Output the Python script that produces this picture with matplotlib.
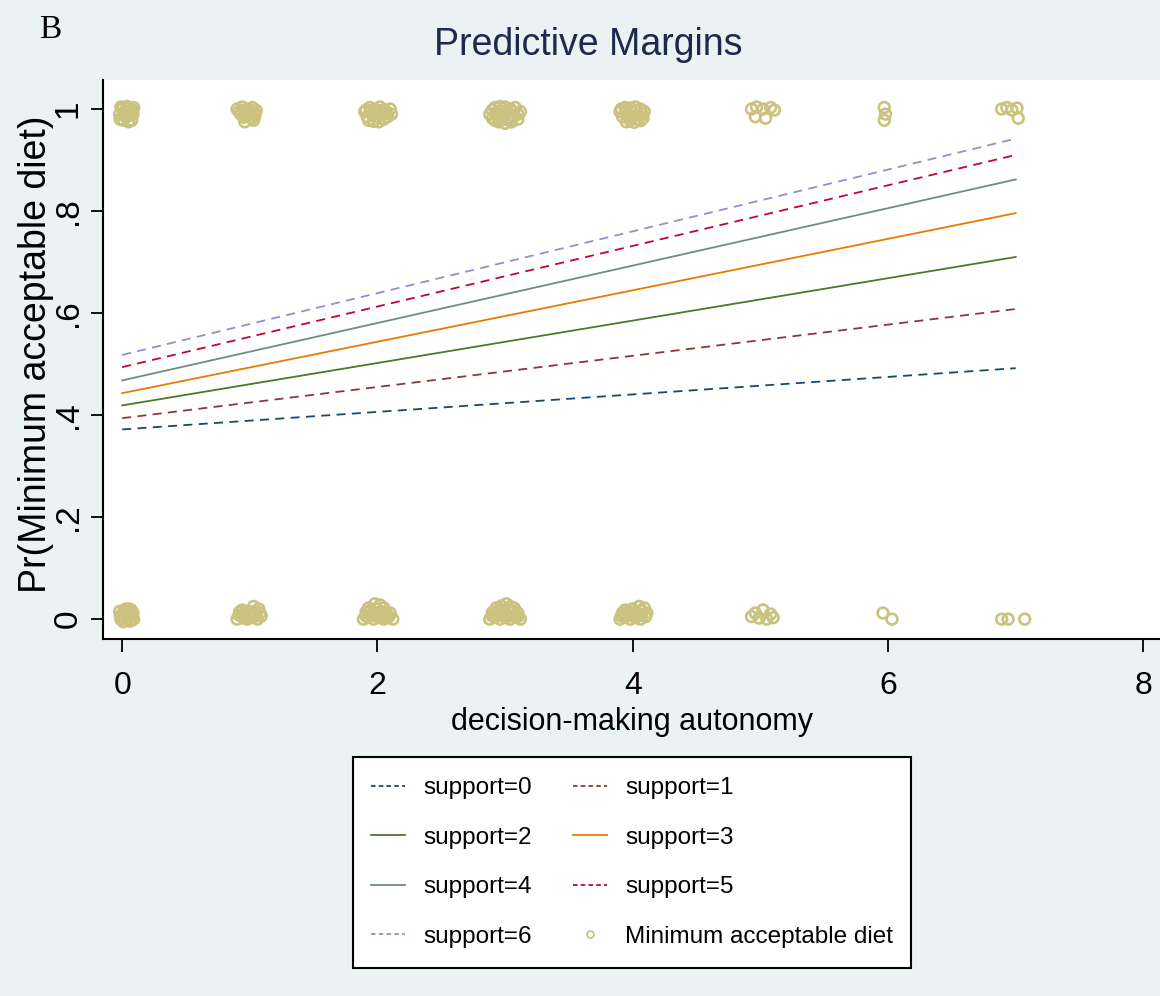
import matplotlib.pyplot as plt
from matplotlib.lines import Line2D
from matplotlib.patches import Rectangle

plt.rcParams['font.family'] = ['Liberation Sans', 'DejaVu Sans']

# predicted margins at autonomy = 0 and 7, one pair per support level
autonomy = [0, 7]
support_0 = [0.372, 0.492]
support_1 = [0.394, 0.608]
support_2 = [0.419, 0.710]
support_3 = [0.443, 0.796]
support_4 = [0.468, 0.862]
support_5 = [0.494, 0.910]
support_6 = [0.518, 0.942]

support_labels = ['support=0', 'support=1', 'support=2', 'support=3',
                  'support=4', 'support=5', 'support=6']

obs_x = [
    # y = 1
    0.00, 0.04, 0.08, -0.02, 0.03, 0.07, 0.09, 0.01, 0.05, 0.06, -0.01, 0.02,
    0.035, 0.075, -0.015, 0.055, 0.015, 0.085,
    0.90, 0.94, 0.98, 1.02, 1.05, 0.93, 0.97, 1.01, 1.04, 0.96, 1.03, 0.99,
    0.915, 0.955, 1.00, 1.035, 0.95, 1.015,
    1.90, 1.94, 1.98, 2.02, 2.06, 2.10, 1.92, 1.96, 2.00, 2.04, 2.08, 1.97, 2.01, 2.11,
    1.91, 1.95, 2.03, 2.07, 1.99, 2.05, 1.93,
    2.88, 2.92, 2.96, 3.00, 3.04, 3.08, 3.12, 2.90, 2.94, 2.98, 3.02, 3.06, 3.10, 2.95, 3.00, 3.05,
    2.90, 2.94, 2.98, 3.02, 3.06, 3.10, 2.97, 3.03, 2.92,
    3.90, 3.94, 3.98, 4.02, 4.06, 4.09, 3.92, 3.96, 4.00, 4.04, 4.08, 3.95, 4.01, 4.06,
    3.91, 3.95, 3.99, 4.03, 4.07, 3.98, 4.04,
    4.93, 4.97, 5.02, 5.08, 5.11, 4.96, 5.04,
    5.97, 5.98, 5.97,
    6.89, 6.93, 6.97, 7.01, 7.02,
    # y = 0
    0.00, 0.04, 0.08, -0.02, 0.03, 0.07, 0.09, 0.01, 0.05, 0.06, -0.01, 0.02,
    0.035, 0.075, -0.015, 0.055, 0.015, 0.085,
    0.90, 0.94, 0.98, 1.02, 1.06, 1.09, 0.92, 0.96, 1.00, 1.04, 1.07, 1.03,
    0.915, 0.955, 1.00, 1.045, 1.08, 0.94,
    1.89, 1.93, 1.97, 2.01, 2.05, 2.09, 2.12, 1.91, 1.95, 1.99, 2.03, 2.07, 1.98, 2.02,
    1.91, 1.95, 1.99, 2.03, 2.07, 2.10, 1.93, 2.05,
    2.88, 2.92, 2.96, 3.00, 3.04, 3.08, 3.12, 2.90, 2.94, 2.98, 3.02, 3.06, 3.10, 2.97, 3.01, 3.04,
    2.90, 2.94, 2.98, 3.02, 3.06, 3.10, 2.93, 2.99, 3.07,
    3.90, 3.94, 3.98, 4.02, 4.06, 4.10, 3.92, 3.97, 4.03, 4.07, 4.09, 4.05,
    3.91, 3.95, 3.99, 4.03, 4.07, 3.94, 4.00, 4.11,
    4.93, 4.96, 4.99, 5.02, 5.05, 5.08, 5.10,
    5.96, 6.03,
    6.89, 6.94, 7.07,
]
obs_y = [
    1.000, 1.005, 0.998, 0.990, 0.985, 0.988, 1.003, 0.978, 0.975, 0.995, 1.004, 0.995,
    0.995, 0.978, 0.980, 1.002, 0.987, 0.990,
    1.000, 1.004, 0.998, 1.003, 0.997, 0.990, 0.988, 0.990, 0.987, 0.975, 0.978, 1.000,
    0.995, 0.998, 0.996, 0.992, 0.984, 0.982,
    0.995, 1.003, 1.000, 1.004, 0.998, 1.000, 0.985, 0.988, 0.984, 0.990, 0.985, 0.976, 0.975, 0.990,
    0.998, 0.995, 0.997, 0.992, 0.992, 0.980, 0.978,
    0.990, 1.003, 1.005, 1.004, 1.000, 1.003, 0.995, 0.982, 0.988, 0.985, 0.983, 0.987, 0.980, 0.975, 0.972, 0.975,
    0.998, 0.995, 0.996, 0.994, 0.995, 0.990, 0.980, 0.978, 0.978,
    0.995, 1.003, 1.002, 1.004, 1.000, 0.995, 0.985, 0.988, 0.985, 0.988, 0.982, 0.975, 0.974, 0.977,
    1.000, 0.996, 0.995, 0.996, 0.992, 0.978, 0.980,
    1.000, 1.004, 1.000, 1.003, 0.998, 0.985, 0.982,
    1.003, 0.990, 0.978,
    1.000, 1.003, 0.998, 1.002, 0.982,
    0.005, 0.000, 0.008, 0.015, 0.020, 0.018, 0.000, -0.005, 0.012, -0.004, 0.000, 0.010,
    0.006, -0.002, 0.006, 0.020, 0.018, 0.012,
    0.000, 0.005, 0.000, 0.004, 0.000, 0.006, 0.014, 0.012, 0.015, 0.013, 0.020, 0.025,
    0.008, 0.002, 0.006, 0.006, 0.012, 0.018,
    0.000, 0.004, 0.000, 0.003, 0.000, 0.005, 0.000, 0.014, 0.018, 0.020, 0.015, 0.012, 0.030, 0.028,
    0.006, 0.008, 0.008, 0.006, 0.004, 0.012, 0.022, 0.022,
    0.000, 0.004, 0.000, 0.003, 0.000, 0.005, 0.000, 0.013, 0.016, 0.018, 0.020, 0.015, 0.012, 0.026, 0.030, 0.025,
    0.006, 0.007, 0.007, 0.008, 0.006, 0.005, 0.022, 0.012, 0.022,
    0.000, 0.004, 0.000, 0.003, 0.000, 0.005, 0.012, 0.015, 0.013, 0.016, 0.022, 0.025,
    0.006, 0.008, 0.007, 0.006, 0.008, 0.018, 0.020, 0.012,
    0.005, 0.012, 0.002, 0.018, 0.000, 0.010, 0.003,
    0.012, 0.000,
    0.000, 0.000, 0.000,
]

# Stata s2color
bg = '#EAF2F3'
line_colors = ['#1A476F', '#90353B', '#55752F', '#E37E00', '#6E8E84', '#C10534', '#938DD2']
dashed = [True, True, False, False, False, True, True]
khaki = '#CAC27E'

fig = plt.figure(figsize=(11.6, 9.96), dpi=100, facecolor=bg)
ax = fig.add_axes([0.0888, 0.3584, 0.9112, 0.5613])
ax.set_facecolor('white')

ax.scatter(obs_x, obs_y, s=60, facecolors='none', edgecolors=khaki, linewidths=1.9, zorder=2)

series = [support_0, support_1, support_2, support_3, support_4, support_5, support_6]
for vals, col, dsh in zip(series, line_colors, dashed):
    ls = (0, (5, 3.5)) if dsh else '-'
    ax.plot(autonomy, vals, color=col, lw=1.3, linestyle=ls, zorder=3)

ax.set_xlim(-0.15, 8.13)
ax.set_ylim(-0.039, 1.057)
ax.set_xticks([0, 2, 4, 6, 8])
ax.set_yticks([0, 0.2, 0.4, 0.6, 0.8, 1])
ax.set_yticklabels(['0', '.2', '.4', '.6', '.8', '1'], rotation=90, va='center')
ax.tick_params(axis='both', direction='out', length=9, width=1.3)
ax.tick_params(axis='x', labelsize=23, pad=14)
ax.tick_params(axis='y', labelsize=24, pad=5)

for side in ['top', 'right']:
    ax.spines[side].set_visible(False)
for side in ['left', 'bottom']:
    ax.spines[side].set_linewidth(1.5)

ax.set_xlabel('decision-making autonomy', fontsize=22, labelpad=4)
ax.set_ylabel('Pr(Minimum acceptable diet)', fontsize=27)
ax.yaxis.set_label_coords(-0.046, 0.51)

fig.text(0.507, 0.955, 'Predictive Margins', fontsize=27, color='#1C2B4B',
         ha='center', va='center')
fig.text(0.034, 0.970, 'B', fontsize=24, family=['Liberation Serif', 'DejaVu Serif'],
         ha='left', va='center')

# legend, filled row by row like Stata
handles = []
for col, dsh, lab in zip(line_colors, dashed, support_labels):
    ls = (0, (2.5, 1.8)) if dsh else '-'
    handles.append(Line2D([], [], color=col, lw=1.3, linestyle=ls, label=lab))
handles.append(Line2D([], [], marker='o', ls='none', markersize=5, markerfacecolor='none',
                      markeredgecolor=khaki, markeredgewidth=1.3, label='Minimum acceptable diet'))
order = [0, 2, 4, 6, 1, 3, 5, 7]
handles = [handles[i] for i in order]

# white box with black frame behind the legend
box = Rectangle((0.304, 0.028), 0.481, 0.212, transform=fig.transFigure,
                facecolor='white', edgecolor='black', lw=1.5, zorder=1)
fig.patches.append(box)

leg = fig.legend(handles=handles, loc='center', bbox_to_anchor=(0.5448, 0.134), ncol=2,
                 fontsize=17.5, frameon=False, labelspacing=1.13, columnspacing=1.7,
                 handlelength=1.4, handletextpad=0.75, borderpad=0.5)
leg.set_zorder(2)

fig.savefig('out.png', dpi=100, facecolor=bg)
